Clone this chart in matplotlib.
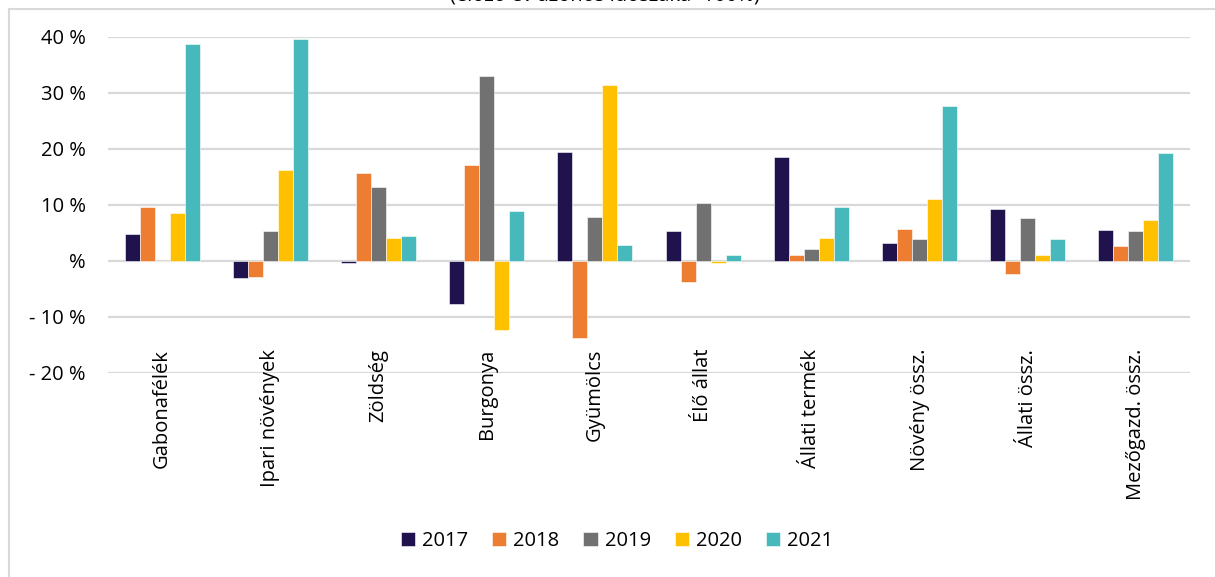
import numpy as np
import matplotlib.pyplot as plt

# Kategóriák és évenkénti változás (%)
categories = ['Gabonafélék', 'Ipari növények', 'Zöldség', 'Burgonya', 'Gyümölcs',
              'Élő állat', 'Állati termék', 'Növény össz.', 'Állati össz.', 'Mezőgazd. össz.']
years = ['2017', '2018', '2019', '2020', '2021']
v2017 = [4.8, -3.0, -0.3, -7.6, 19.4, 5.4, 18.5, 3.2, 9.2, 5.5]
v2018 = [9.7, -2.9, 15.8, 17.1, -13.8, -3.8, 1.0, 5.7, -2.3, 2.6]
v2019 = [0.0, 5.3, 13.3, 33.1, 7.9, 10.3, 2.2, 3.9, 7.6, 5.3]
v2020 = [8.5, 16.2, 4.1, -12.4, 31.4, -0.3, 4.1, 11.0, 1.1, 7.3]
v2021 = [38.7, 39.6, 4.5, 8.9, 2.8, 1.1, 9.6, 27.6, 3.9, 19.3]
series = [v2017, v2018, v2019, v2020, v2021]
colors = ['#20124d', '#ed7d31', '#717171', '#ffc000', '#47b9bc']

plt.rcParams['font.family'] = ['Open Sans', 'DejaVu Sans']

fig = plt.figure(figsize=(12.15, 5.77), dpi=100)
ax = fig.add_axes([108 / 1215, 1 - 373 / 577, (1190 - 108) / 1215, (373 - 37) / 577])

x = np.arange(len(categories))
w = 0.139
for i, (vals, c, yr) in enumerate(zip(series, colors, years)):
    ax.bar(x + (i - 2) * w, vals, w, color=c, label=yr, edgecolor='white', linewidth=0.4, zorder=3)

ax.set_xlim(-0.5, len(categories) - 0.5)
ax.set_ylim(-20, 40)
ax.set_yticks([-20, -10, 0, 10, 20, 30, 40])
ax.set_yticklabels(['- 20 %', '- 10 %', '%', '10 %', '20 %', '30 %', '40 %'], fontsize=14.5)
ax.tick_params(axis='y', length=0, pad=16)
ax.set_xticks([])
ax.grid(axis='y', color='#d9d9d9', linewidth=1.6, zorder=0)
for s in ax.spines.values():
    s.set_visible(False)

# kategória feliratok alul, függőlegesen
for xi, name in zip(x, categories):
    ax.text(xi, -15.7, name, rotation=90, ha='center', va='top', fontsize=14.5, clip_on=False)

# diagram kerete és levágott alcím
fig.add_artist(plt.Line2D([9 / 1215, 9 / 1215], [0, 1 - 9 / 577], color='#d9d9d9', lw=1.5))
fig.add_artist(plt.Line2D([9 / 1215, 1], [1 - 9 / 577, 1 - 9 / 577], color='#d9d9d9', lw=1.5))
fig.text(605 / 1215, 1 + 4 / 577, '(előző év azonos időszaka=100%)', ha='center', va='center', fontsize=14.5)

leg = fig.legend(loc='center', bbox_to_anchor=(617 / 1215, 1 - 541 / 577), ncol=5, frameon=False,
                 fontsize=14.5, handlelength=0.7, handleheight=0.7, handletextpad=0.35, columnspacing=1.2)

fig.savefig('out.png', dpi=100)
